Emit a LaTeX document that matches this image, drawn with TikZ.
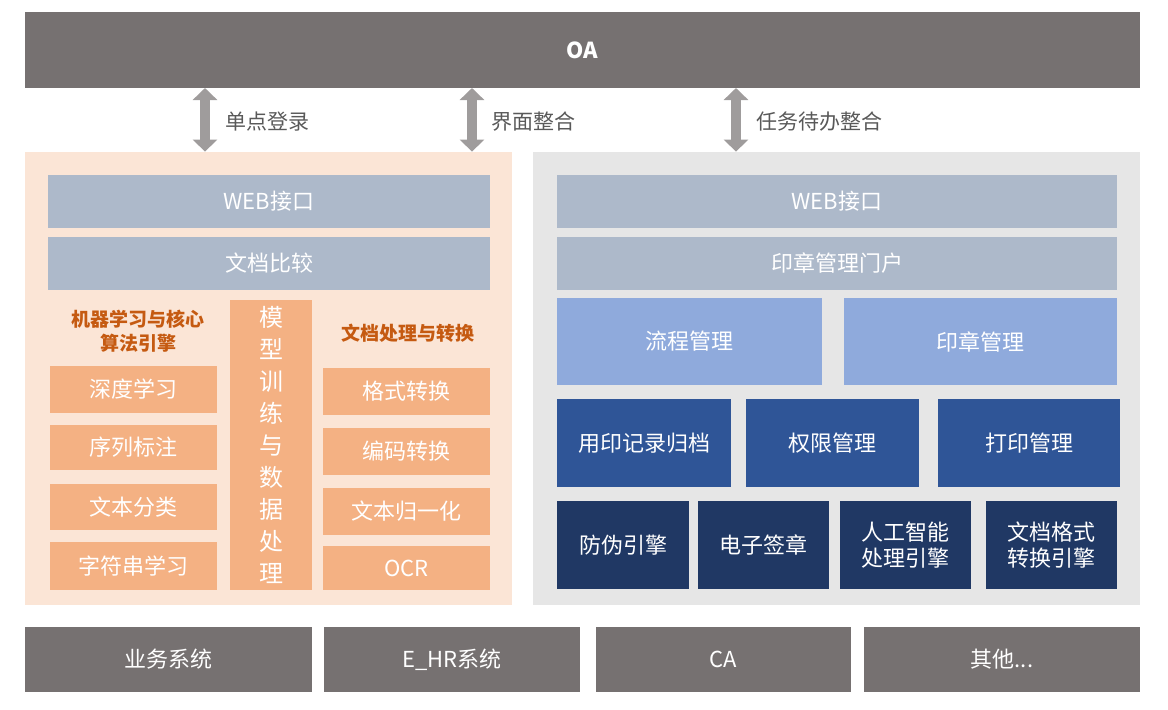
\documentclass[tikz,border=0pt]{standalone}
\usepackage{fontspec}
\setmainfont{Noto Sans CJK SC}
\usetikzlibrary{arrows.meta}
\definecolor{oagray}{HTML}{767171}
\definecolor{leftbg}{HTML}{FBE5D6}
\definecolor{rightbg}{HTML}{E6E6E6}
\definecolor{paleblue}{HTML}{ADB9CA}
\definecolor{peach}{HTML}{F4B183}
\definecolor{midblue}{HTML}{8FAADC}
\definecolor{deepblue}{HTML}{2F5597}
\definecolor{navy}{HTML}{203864}
\definecolor{rust}{HTML}{C55A11}
\definecolor{labelgray}{HTML}{595959}
\tikzset{
  box/.style={rectangle,inner sep=0pt,text=white,font=\fontsize{11}{13}\selectfont,align=center},
  title/.style={text=rust,font=\fontsize{9.5}{12}\selectfont\bfseries,align=center},
  link/.style={{Triangle[width=12pt,length=6pt]}-{Triangle[width=12pt,length=6pt]},line width=5pt,draw=oagray!70},
  linklabel/.style={anchor=west,text=labelgray,font=\fontsize{10.5}{12}\selectfont},
}
\begin{document}
\begin{tikzpicture}[x=0.5pt,y=-0.5pt]
    \useasboundingbox (0,0) rectangle (1168,709) ;
    % top and panels
    \node[box,fill=oagray,minimum width=557.5pt,minimum height=38pt,font=\fontsize{11}{13}\selectfont\bfseries] (oa) at (582.5,50) {OA} ;
    \node[fill=leftbg,minimum width=243.5pt,minimum height=226.5pt,inner sep=0pt] (leftpanel) at (268.5,378.5) {} ;
    \node[fill=rightbg,minimum width=303.5pt,minimum height=226.5pt,inner sep=0pt] (rightpanel) at (836.5,378.5) {} ;
    \coordinate (a1) at (205,88) ;
    \coordinate (a2) at (472,88) ;
    \coordinate (a3) at (736,88) ;
    \draw[link] (a1) -- (a1 |- leftpanel.north) ;
    \draw[link] (a2) -- (a2 |- leftpanel.north) ;
    \draw[link] (a3) -- (a3 |- rightpanel.north) ;
    \node[linklabel] (l1) at (218,122) {单点登录} ;
    \node[linklabel] (l2) at (484,122) {界面整合} ;
    \node[linklabel] (l3) at (749,122) {任务待办整合} ;

    % left panel
    \node[box,fill=paleblue,minimum width=221pt,minimum height=26.5pt] (lweb) at (269,201.5) {WEB接口} ;
    \node[box,fill=paleblue,minimum width=221pt,minimum height=26.5pt] (lcmp) at (269,263.5) {文档比较} ;
    \node[title] (mltitle) at (138,331) {机器学习与核心\\算法引擎} ;
    \node[title] (doctitle) at (408,333) {文档处理与转换} ;
    \node[box,fill=peach,minimum width=83.5pt,minimum height=23.5pt] (deep) at (133.5,389.5) {深度学习} ;
    \node[box,fill=peach,minimum width=83.5pt,minimum height=22.5pt] (seq) at (133.5,447.5) {序列标注} ;
    \node[box,fill=peach,minimum width=83.5pt,minimum height=23pt] (cls) at (133.5,507) {文本分类} ;
    \node[box,fill=peach,minimum width=83.5pt,minimum height=24pt] (str) at (133.5,566) {字符串学习} ;
    \node[box,fill=peach,minimum width=41pt,minimum height=145pt,font=\fontsize{12}{16}\selectfont] (model) at (271,445) {模\\型\\训\\练\\与\\数\\据\\处\\理} ;
    \node[box,fill=peach,minimum width=83.5pt,minimum height=23.5pt] (fmt) at (406.5,391.5) {格式转换} ;
    \node[box,fill=peach,minimum width=83.5pt,minimum height=23.5pt] (enc) at (406.5,451.5) {编码转换} ;
    \node[box,fill=peach,minimum width=83.5pt,minimum height=23.5pt] (norm) at (406.5,511.5) {文本归一化} ;
    \node[box,fill=peach,minimum width=83.5pt,minimum height=22pt] (ocr) at (406.5,568) {OCR} ;

    % right panel
    \node[box,fill=paleblue,minimum width=280pt,minimum height=26.5pt] (rweb) at (837,201.5) {WEB接口} ;
    \node[box,fill=paleblue,minimum width=280pt,minimum height=26.5pt] (portal) at (837,263.5) {印章管理门户} ;
    \node[box,fill=midblue,minimum width=132.5pt,minimum height=43.5pt] (flow) at (689.5,341.5) {流程管理} ;
    \node[box,fill=midblue,minimum width=136.5pt,minimum height=43.5pt] (seal) at (980.5,341.5) {印章管理} ;
    \node[box,fill=deepblue,minimum width=87pt,minimum height=44pt] (record) at (644,443) {用印记录归档} ;
    \node[box,fill=deepblue,minimum width=86.5pt,minimum height=44pt] (perm) at (832.5,443) {权限管理} ;
    \node[box,fill=deepblue,minimum width=91pt,minimum height=44pt] (print) at (1029,443) {打印管理} ;
    \node[box,fill=navy,minimum width=66pt,minimum height=44pt] (fake) at (623,545) {防伪引擎} ;
    \node[box,fill=navy,minimum width=65.5pt,minimum height=44pt] (esign) at (763.5,545) {电子签章} ;
    \node[box,fill=navy,minimum width=65.5pt,minimum height=44pt] (ai) at (905.5,545) {人工智能\\处理引擎} ;
    \node[box,fill=navy,minimum width=65.5pt,minimum height=44pt] (conv) at (1051.5,545) {文档格式\\转换引擎} ;

    % bottom systems
    \node[box,fill=oagray,minimum width=143.5pt,minimum height=32.5pt] (biz) at (168.5,659.5) {业务系统} ;
    \node[box,fill=oagray,minimum width=128pt,minimum height=32.5pt] (ehr) at (452,659.5) {E\_HR系统} ;
    \node[box,fill=oagray,minimum width=127.5pt,minimum height=32.5pt] (ca) at (723.5,659.5) {CA} ;
    \node[box,fill=oagray,minimum width=138pt,minimum height=32.5pt] (other) at (1002,659.5) {其他...} ;
\end{tikzpicture}
\end{document}
